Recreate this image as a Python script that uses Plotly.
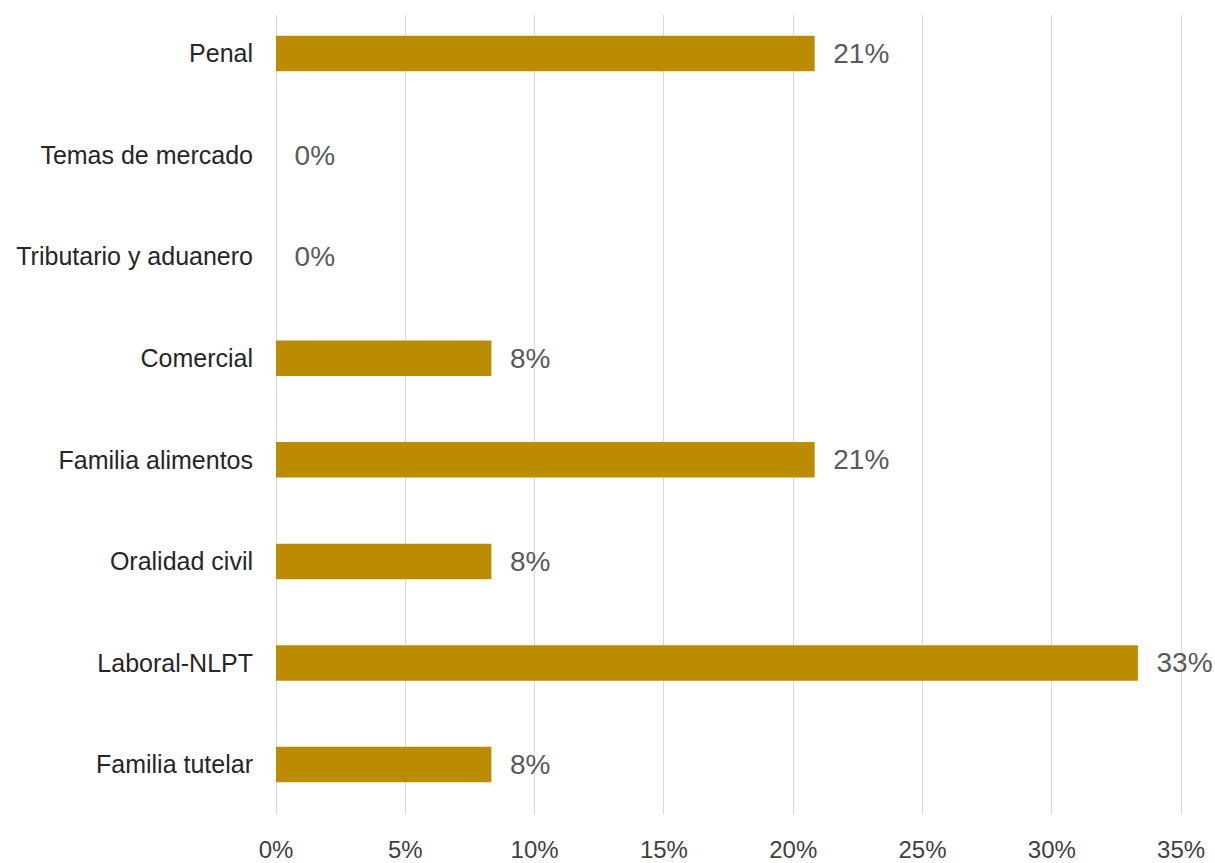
import plotly.graph_objects as go

categories = ["Familia tutelar", "Laboral-NLPT", "Oralidad civil", "Familia alimentos",
              "Comercial", "Tributario y aduanero", "Temas de mercado", "Penal"]
values = [0.0833, 0.3333, 0.0833, 0.2083, 0.0833, 0.0, 0.0, 0.2083]
labels = ["8%", "33%", "8%", "21%", "8%", "0%", "0%", "21%"]
x_ticks = [0, 0.05, 0.10, 0.15, 0.20, 0.25, 0.30, 0.35]
x_tick_labels = ["0%", "5%", "10%", "15%", "20%", "25%", "30%", "35%"]

W, H = 1215, 863
fig = go.Figure(go.Bar(
    y=categories, x=values, orientation="h",
    marker=dict(color="#BC8C00", line=dict(width=0)),
    width=0.35,
    text=["\u00a0\u00a0" + t for t in labels],
    textposition="outside",
    textfont=dict(family="Liberation Sans, Arial, sans-serif", size=28, color="#595959"),
    cliponaxis=False,
))

fig.update_layout(
    width=W, height=H,
    margin=dict(l=276, r=0, t=15, b=40),
    plot_bgcolor="white", paper_bgcolor="white",
    showlegend=False,
    font=dict(family="Liberation Sans, Arial, sans-serif", color="#262626"),
)
fig.update_xaxes(
    range=[0, 0.3631],
    tickvals=x_ticks, ticktext=x_tick_labels,
    showgrid=True, gridcolor="#D9D9D9", gridwidth=1.3,
    zeroline=True, zerolinecolor="#D9D9D9", zerolinewidth=1.3,
    showline=False,
    ticks="outside", ticklen=14, tickcolor="rgba(0,0,0,0)",
    tickfont=dict(size=24, color="#404040"),
)
fig.update_yaxes(
    categoryorder="array", categoryarray=categories,
    range=[-0.487, 7.38],
    showgrid=False, zeroline=False, showline=False,
    ticks="outside", ticklen=17, tickcolor="rgba(0,0,0,0)",
    tickfont=dict(size=25, color="#262626"),
)

fig.write_html(
    "out.html",
    config={"displayModeBar": False},
    post_script="document.body.style.margin='0';document.body.style.overflow='hidden';",
)
